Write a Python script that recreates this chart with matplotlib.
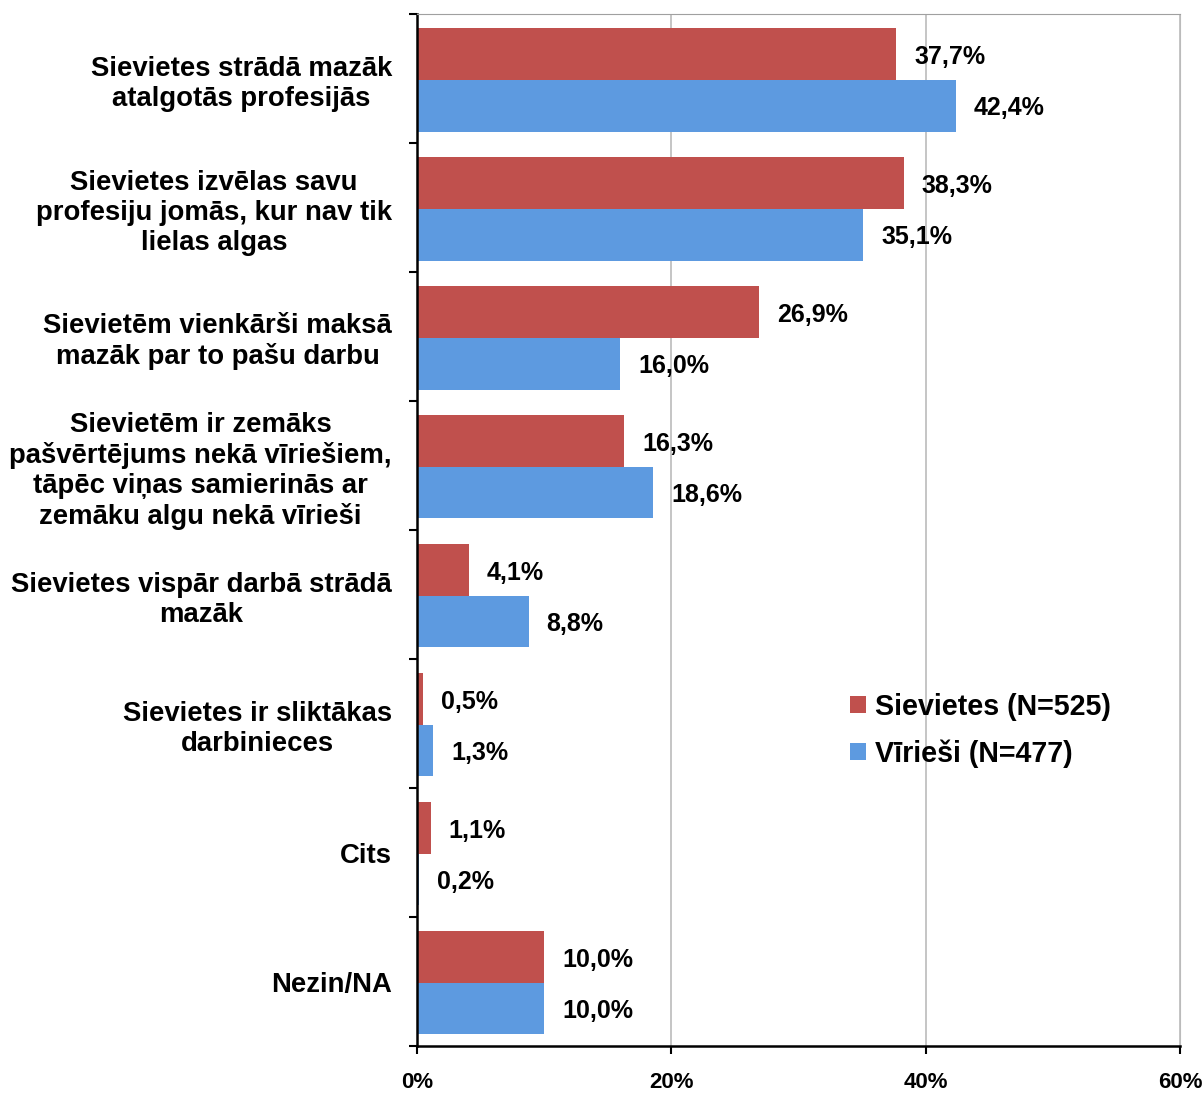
import matplotlib.pyplot as plt
import numpy as np

# dati
categories = [
    "Sievietes strādā mazāk\natalgotās profesijās",
    "Sievietes izvēlas savu\nprofesiju jomās, kur nav tik\nlielas algas",
    "Sievietēm vienkārši maksā\nmazāk par to pašu darbu",
    "Sievietēm ir zemāks\npašvērtējums nekā vīriešiem,\ntāpēc viņas samierinās ar\nzemāku algu nekā vīrieši",
    "Sievietes vispār darbā strādā\nmazāk",
    "Sievietes ir sliktākas\ndarbinieces",
    "Cits",
    "Nezin/NA",
]
women = [37.7, 38.3, 26.9, 16.3, 4.1, 0.5, 1.1, 10.0]
men = [42.4, 35.1, 16.0, 18.6, 8.8, 1.3, 0.2, 10.0]
series_names = ["Sievietes (N=525)", "Vīrieši (N=477)"]
xticks = [0, 20, 40, 60]

red = "#C0504D"
blue = "#5D9AE0"

plt.rcParams['font.family'] = ['Liberation Sans', 'DejaVu Sans']
plt.rcParams['font.weight'] = 'bold'

fig = plt.figure(figsize=(12.04, 10.93), dpi=100)
ax = fig.add_axes([0.3463, 0.043, 0.98 - 0.3463, 0.987 - 0.043])

y = np.arange(len(categories))
h = 0.4
ax.barh(y - h / 2 + 0.01, women, height=h, color=red, label=series_names[0])
ax.barh(y + h / 2 + 0.01, men, height=h, color=blue, label=series_names[1])

for i in range(len(categories)):
    ax.text(women[i] + 1.4, y[i] - h / 2 + 0.03, f"{women[i]:.1f}%".replace(".", ","),
            va='center', ha='left', fontsize=18, fontweight='bold')
    ax.text(men[i] + 1.4, y[i] + h / 2 + 0.03, f"{men[i]:.1f}%".replace(".", ","),
            va='center', ha='left', fontsize=18, fontweight='bold')

ax.set_xlim(0, 60)
ax.set_ylim(len(categories) - 0.5, -0.5)

ax.set_yticks(y)
ax.set_yticklabels(categories, fontsize=19.8, fontweight='bold',
                   multialignment='center', linespacing=1.2)
ax.tick_params(axis='y', which='major', length=0, pad=18)
ax.set_yticks(np.arange(-0.5, len(categories), 1), minor=True)
ax.tick_params(axis='y', which='minor', length=6, width=1.5, direction='out')

ax.set_xticks(xticks)
ax.set_xticklabels([f"{t}%" for t in xticks], fontsize=16, fontweight='bold',
                   family=['Liberation Sans Narrow', 'Liberation Sans', 'DejaVu Sans'],
                   fontstretch='condensed')
ax.tick_params(axis='x', length=6, width=1.5, direction='out', pad=13)

ax.grid(axis='x', color='#BBBBBB', linewidth=1.2)
ax.set_axisbelow(True)
ax.spines['left'].set_linewidth(1.8)
ax.spines['bottom'].set_linewidth(1.8)
ax.spines['top'].set_color('#A0A0A0')
ax.spines['right'].set_color('#BBBBBB')

ax.legend(loc='center left', bbox_to_anchor=(0.534, 0.306), frameon=False,
          prop={'size': 20.6, 'weight': 'bold'}, handlelength=0.56, handleheight=0.56,
          handletextpad=0.3, labelspacing=0.64)

fig.savefig("out.png", dpi=100)
